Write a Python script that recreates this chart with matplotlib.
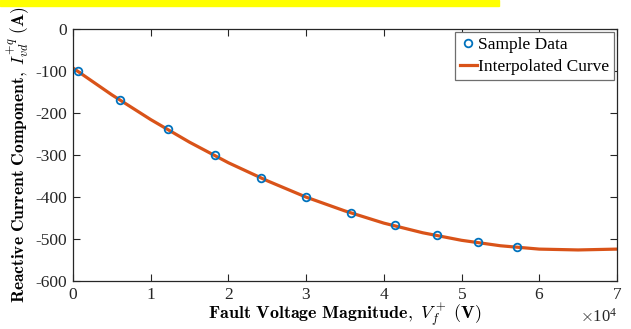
import matplotlib
matplotlib.use("Agg")
import matplotlib.pyplot as plt
from matplotlib.patches import Rectangle

plt.rcParams["font.family"] = ["Liberation Serif", "DejaVu Serif"]
plt.rcParams["mathtext.fontset"] = "cm"
plt.rcParams["axes.unicode_minus"] = False

# sample points (fault voltage in V, reactive current in A)
sample_v = [640, 6100, 12200, 18300, 24200, 30000, 35800, 41500, 46900, 52100, 57200]
sample_i = [-100, -168, -237, -300, -354, -400, -437, -467, -490, -507, -520]

# interpolated curve
curve_v = [0, 5000, 10000, 15000, 20000, 25000, 30000, 35000, 40000,
           45000, 50000, 55000, 60000, 65000, 70000]
curve_i = [-92, -156, -215, -269, -318, -361, -400, -433, -462,
           -485, -503, -516, -524, -526, -524]

fig = plt.figure(figsize=(6.31, 3.29), dpi=100)
ax = fig.add_axes([0.1157, 0.146, 0.862, 0.7645])

# yellow highlight strip at the top edge
fig.patches.append(Rectangle((0, 1 - 6 / 329), 499 / 631, 6 / 329,
                             transform=fig.transFigure, color="#ffff00", zorder=0))

ax.plot(sample_v, sample_i, "o", mfc="none", mec="#0072BD", mew=1.3, ms=5.5,
        label="Sample Data", zorder=3)
ax.plot(curve_v, curve_i, "-", color="#D95319", lw=2.3, label="Interpolated Curve", zorder=2)

ax.set_xlim(0, 70000)
ax.set_ylim(-600, 0)
ax.set_xticks(range(0, 70001, 10000))
ax.set_yticks(range(-600, 1, 100))
ax.ticklabel_format(style="sci", axis="x", scilimits=(4, 4), useMathText=True)
ax.tick_params(direction="in", top=True, right=True, length=5, width=0.8,
               labelsize=12.5, colors="#262626", pad=4)
ax.xaxis.get_offset_text().set_fontsize(12)
ax.xaxis.OFFSETTEXTPAD = 4
for s in ax.spines.values():
    s.set_linewidth(0.9)
    s.set_color("#262626")

ax.set_xlabel(r"$\mathbf{Fault\ Voltage\ Magnitude,}\ V_f^+\ \mathbf{(V)}$", fontsize=13)
ax.set_ylabel(r"$\mathbf{Reactive\ Current\ Component,}\ I_{vd}^{+q}\ \mathbf{(A)}$", fontsize=12.5)
ax.xaxis.set_label_coords(0.5, -0.085)
ax.yaxis.set_label_coords(-0.075, 0.5)

leg = ax.legend(loc="upper right", fontsize=12.5, fancybox=False, framealpha=1,
                edgecolor="#6e6e6e", borderpad=0.3, handlelength=1.0, handletextpad=0.05,
                labelspacing=0.3, borderaxespad=0.15)
leg.get_frame().set_linewidth(0.9)

fig.savefig("out.png", dpi=100)
